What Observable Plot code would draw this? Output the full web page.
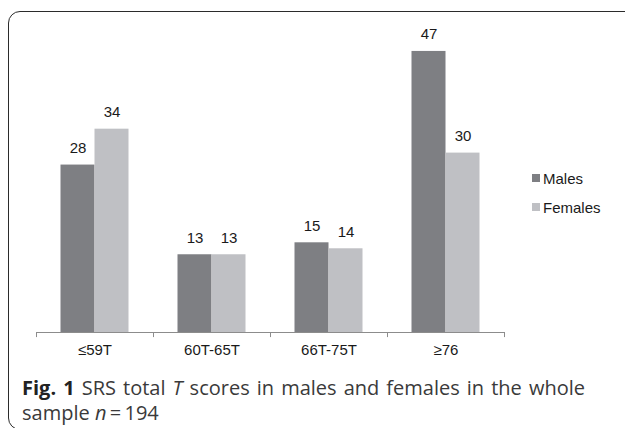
<!DOCTYPE html>
<html>
<head>
<meta charset="utf-8">
<script src="https://cdn.jsdelivr.net/npm/d3@7"></script>
<script src="https://cdn.jsdelivr.net/npm/@observablehq/plot@0.6"></script>
<style>
  html, body { margin: 0; padding: 0; background: #fff; overflow: hidden; }
  #page { position: relative; width: 625px; height: 428px; overflow: hidden; }
  #border { position: absolute; left: 8px; top: 11px; width: 650px; height: 419px;
    border: 1.5px solid #2b2b2b; border-radius: 12px; box-sizing: border-box; }
  #chart { position: absolute; left: 0; top: 0; }
  #legend { position: absolute; left: 532px; top: 168px; font-family: "Liberation Sans", Arial, sans-serif;
    font-size: 15px; color: #1a1a1a; }
  #legend .item { display: flex; align-items: center; height: 20px; margin-bottom: 9px; }
  #legend .sw { width: 8px; height: 8px; margin-right: 3px; }
  #caption { position: absolute; left: 22px; top: 375px; width: 563px; font-family: "Open Sans", sans-serif;
    font-size: 20px; line-height: 25px; color: #3a3a3a; text-align: justify; }
  #caption b { color: #222; }
</style>
</head>
<body>
<div id="page">
  <div id="border"></div>
  <div id="chart"></div>
  <div id="legend"></div>
  <div id="caption"><b>Fig. 1</b> SRS total <i>T</i> scores in males and females in the whole sample <i>n</i>&#8201;=&#8201;194</div>
</div>
<script>
const categories = ["≤59T", "60T-65T", "66T-75T", "≥76"];
const series = ["Males", "Females"];
const males = [28, 13, 15, 47];
const females = [34, 13, 14, 30];
const colors = ["#7e7f83", "#bfc0c4"];

const data = categories.flatMap((c, i) => [
  {cat: c, sex: "Males", value: males[i]},
  {cat: c, sex: "Females", value: females[i]}
]);

const padOuter = (117 / 34 - 2) / 2;
const edge = padOuter * 34 + 17;

const chart = Plot.plot({
  width: 625,
  height: 372,
  marginLeft: 36,
  marginRight: 121,
  marginTop: 33,
  marginBottom: 40,
  style: {fontFamily: "Liberation Sans, Arial, sans-serif", fontSize: "15px", color: "#1a1a1a", background: "transparent"},
  fx: {domain: categories, padding: 0, axis: null},
  x: {domain: series, paddingInner: 0, paddingOuter: padOuter, round: false, axis: null},
  y: {domain: [0, 50], axis: null},
  color: {domain: series, range: colors},
  marks: [
    Plot.barY(data, {fx: "cat", x: "sex", y: "value", fill: "sex"}),
    Plot.ruleY([0], {stroke: "#8c8c8c", strokeWidth: 1}),
    Plot.ruleX(categories, {fx: d => d, x: () => "Males", y1: 0, y2: -0.85, dx: -edge, stroke: "#8c8c8c"}),
    Plot.ruleX([categories[categories.length - 1]], {fx: d => d, x: () => "Females", y1: 0, y2: -0.85, dx: edge, stroke: "#8c8c8c"}),
    Plot.text(data, {fx: "cat", x: "sex", y: "value", text: d => String(d.value), dy: -17, fontSize: 15, fill: "#1a1a1a"}),
    Plot.axisFx({anchor: "bottom", tickSize: 0, tickPadding: 12, fontSize: 15, label: null, fill: "#1a1a1a"})
  ]
});
document.getElementById("chart").appendChild(chart);

const legend = document.getElementById("legend");
series.forEach((s, i) => {
  const item = document.createElement("div");
  item.className = "item";
  const sw = document.createElement("span");
  sw.className = "sw";
  sw.style.background = colors[i];
  const t = document.createElement("span");
  t.textContent = s;
  item.appendChild(sw);
  item.appendChild(t);
  legend.appendChild(item);
});
</script>
</body>
</html>
